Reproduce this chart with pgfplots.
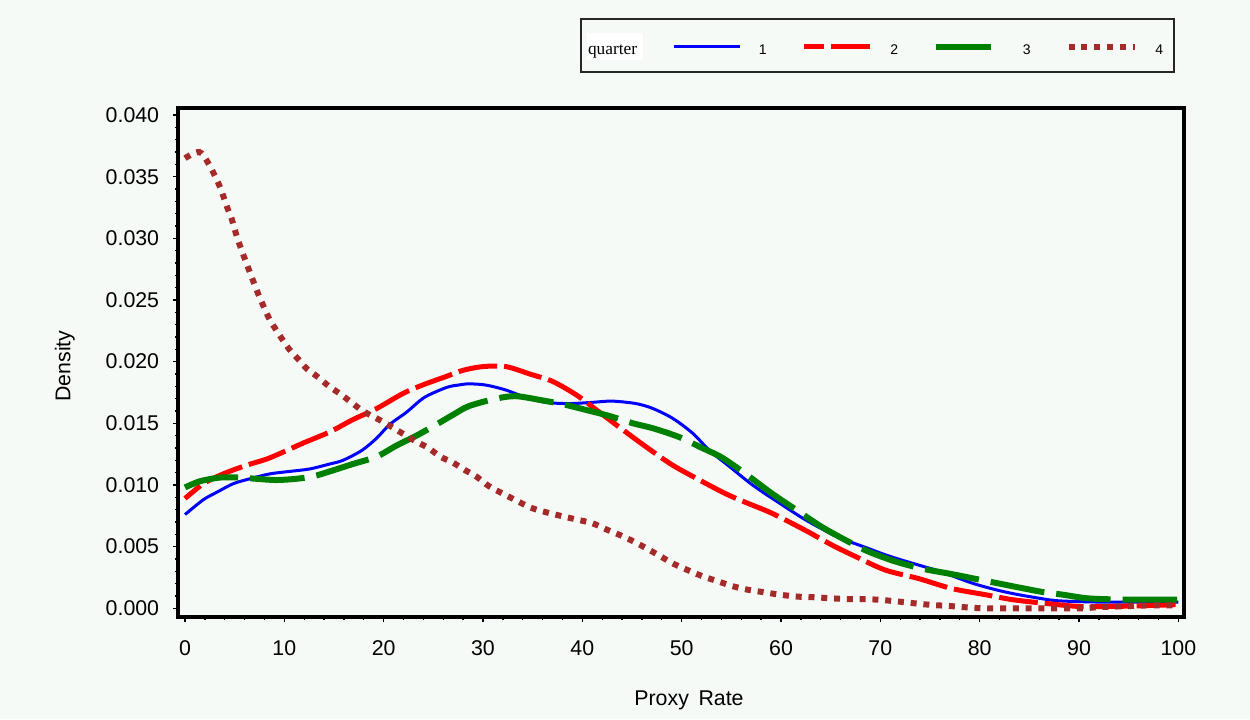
\documentclass[border=0pt]{standalone}
\usepackage{fontspec}
\setmainfont{Liberation Sans}
\newfontfamily\serifq{Liberation Serif}
\usepackage{pgfplots}
\pgfplotsset{compat=1.18}
\definecolor{bg}{RGB}{246,250,247}
\definecolor{qblue}{RGB}{0,0,255}
\definecolor{qred}{RGB}{255,0,0}
\definecolor{qgreen}{RGB}{0,128,0}
\definecolor{qbrown}{RGB}{165,42,42}
\begin{document}
\begin{tikzpicture}
\fill[bg] (0,0) rectangle (937.5pt,539.25pt);
\path[use as bounding box] (0,0) rectangle (937.5pt,539.25pt);
\fill[white] (440.25pt,494.25pt) rectangle (482.25pt,514.5pt);
\draw[line width=1.1pt, black!85] (435.75pt,525pt) rectangle (880.5pt,485.25pt);
\begin{axis}[
  at={(133.875pt,76.5pt)}, anchor=south west,
  scale only axis, width=754.125pt, height=381.75pt,
  xmin=-0.654, xmax=100.57, ymin=-0.000706, ymax=0.040568,
  axis line style={line width=3pt, black},
  tick align=outside, tick pos=left,
  major tick length=3.75pt, minor tick length=2.25pt,
  tick style={line width=1pt, black},
  xtick={0,10,20,30,40,50,60,70,80,90,100}, minor x tick num=4,
  ytick={0,0.005,0.010,0.015,0.020,0.025,0.030,0.035,0.040}, minor y tick num=4,
  scaled y ticks=false,
  /pgf/number format/assume math mode=true,
  yticklabel style={/pgf/number format/.cd, fixed, fixed zerofill, precision=3, /tikz/.cd,
     inner sep=0pt, anchor=east, xshift=-10.6pt},
  xticklabel style={inner sep=0pt, anchor=north, yshift=-14pt},
  tick label style={font=\fontsize{16}{16}\selectfont},
  xlabel={Proxy\hspace{0.45em}Rate}, ylabel={Density},
  every axis x label/.style={at={(axis description cs:0.5077,-0.1743)}, anchor=base, font=\fontsize{16}{16}\selectfont},
  every axis y label/.style={at={(axis description cs:-0.1076,0.4931)}, anchor=base, rotate=90, font=\fontsize{16}{16}\selectfont},
  legend columns=5, legend cell align=left,
  legend style={draw=none, fill=none, inner sep=0pt, outer sep=0pt, column sep=0pt,
     nodes={inner sep=0pt, text height=7.5pt, text depth=1pt, font=\fontsize{10.5}{10.5}\selectfont},
     at={(axis description cs:0.4073,1.1146)}, anchor=west},
  legend image code/.code={\path (-26.25pt,0pt); \draw[#1] (0pt,2.25pt) -- (49.5pt,2.25pt); \path (62.8pt,0pt);},
]
\addlegendimage{empty legend}
\addlegendentry{\fontsize{13}{13}\serifq quarter}

\addplot[qblue, line width=2.25pt, smooth] coordinates {
(0,0.0076) (1.84,0.0088) (3.18,0.0094) (4.85,0.0101) (6.53,0.0105) (8.54,0.0109) (10.55,0.0111) (12.56,0.0113) (14.57,0.0117) (15.9,0.0120) (17.8,0.0128) (19.3,0.0138) (20.6,0.0149) (22.3,0.0159) (24.1,0.0171) (26.3,0.0179) (27.5,0.0181) (28.6,0.0182) (30.3,0.0181) (32.3,0.0177) (34.3,0.0171) (36.3,0.0167) (38.7,0.0166) (41.0,0.0167) (43.0,0.0168) (45.4,0.0166) (47.1,0.0162) (49.1,0.0154) (51.1,0.0142) (52.8,0.0128) (54.8,0.0115) (56.8,0.0102) (58.2,0.0094) (59.9,0.0085) (62.2,0.0073) (64.2,0.0064) (65.9,0.0057) (68.3,0.0050) (71.0,0.0042) (74.3,0.0034) (76.0,0.0030) (79.4,0.0020) (82.7,0.0013) (86.1,0.0008) (88.1,0.0006) (92.6,0.0005) (100,0.0005)
};
\addlegendentry{1}

\addplot[qred, line width=3.75pt, dash pattern=on 29.25pt off 5.25pt, dash phase=14.25pt, smooth] coordinates {
(0,0.0089) (1.84,0.0101) (3.85,0.0109) (6.2,0.0116) (8.54,0.0122) (11.9,0.0134) (14.57,0.0143) (16.9,0.0153) (19.3,0.0162) (21.9,0.0174) (23.9,0.0181) (26.3,0.0188) (28.0,0.0193) (30.0,0.0196) (32.3,0.0196) (34.7,0.0190) (37.0,0.0184) (39.4,0.0173) (41.4,0.0161) (43.7,0.0147) (46.4,0.0131) (49.1,0.0116) (51.8,0.0104) (54.4,0.0093) (56.4,0.0086) (59.1,0.0077) (62.5,0.0063) (65.2,0.0051) (67.5,0.0042) (70.5,0.0031) (73.9,0.0024) (77.2,0.0016) (80.6,0.0011) (83.3,0.0007) (86.6,0.0004) (90.0,0.00015) (93.4,0.00015) (96,0.0002) (100,0.0003)
};
\addlegendentry{2}

\addplot[qgreen, line width=4.5pt, dash pattern=on 41pt off 9pt, smooth] coordinates {
(0,0.0098) (1.5,0.0103) (3.5,0.0106) (5.5,0.0106) (7.2,0.0105) (9.2,0.0104) (11.2,0.0105) (12.9,0.0107) (14.57,0.0111) (16.9,0.0117) (19.3,0.0123) (21.3,0.0132) (23.3,0.0140) (25.3,0.0149) (27.0,0.0157) (28.6,0.0164) (31.3,0.0170) (33.3,0.0172) (35.7,0.0169) (38.3,0.0165) (40.3,0.0161) (42.7,0.0156) (45.1,0.0150) (47.1,0.0146) (49.7,0.0139) (51.8,0.0131) (54.1,0.0122) (56.6,0.0108) (59.1,0.0093) (61.5,0.0080) (64.1,0.0066) (66.8,0.0054) (68.8,0.0046) (71.5,0.0038) (74.3,0.0032) (77,0.0028) (79.5,0.0024) (82,0.0020) (84.5,0.0016) (86.5,0.0013) (88.4,0.0011) (91,0.0008) (95,0.0007) (100,0.0007)
};
\addlegendentry{3}

\addplot[qbrown, line width=4.5pt, dash pattern=on 4.5pt off 5.1pt, smooth] coordinates {
(0,0.0365) (1.44,0.0370) (2.34,0.0361) (3.45,0.0343) (4.25,0.0325) (4.69,0.0316) (5.36,0.0298) (6.6,0.0271) (7.47,0.0253) (8.47,0.0235) (9.15,0.0226) (9.72,0.0219) (10.5,0.0210) (11.4,0.0202) (12.3,0.0194) (13.3,0.0188) (14.5,0.0180) (15.6,0.0174) (16.75,0.0167) (17.9,0.0160) (19.3,0.0154) (20.4,0.0149) (23.1,0.0136) (24.5,0.0130) (25.7,0.0123) (27.0,0.0118) (28.2,0.0112) (29.3,0.0107) (30.6,0.0099) (32.0,0.0093) (34.7,0.0082) (36.3,0.0078) (37.8,0.0075) (39.4,0.0072) (41.0,0.0069) (42.4,0.0064) (43.9,0.0059) (45.2,0.0054) (46.6,0.0048) (47.9,0.0042) (49.2,0.0036) (50.6,0.0031) (52.1,0.0026) (53.6,0.0022) (55.1,0.0018) (56.7,0.0015) (58.3,0.0013) (59.9,0.0011) (61.8,0.00094) (63.5,0.00089) (65.0,0.00081) (66.8,0.00075) (68.5,0.00075) (70.2,0.00067) (71.9,0.00054) (73.5,0.0004) (75.2,0.00027) (76.9,0.00019) (78.6,0.00008) (80.4,0.0) (83.6,0.0) (87,0.0) (90.3,0.0) (92,0.0001) (94,0.00015) (95.7,0.0002) (97.3,0.00024) (100,0.00024)
};
\addlegendentry{4}
\end{axis}
\end{tikzpicture}
\end{document}
